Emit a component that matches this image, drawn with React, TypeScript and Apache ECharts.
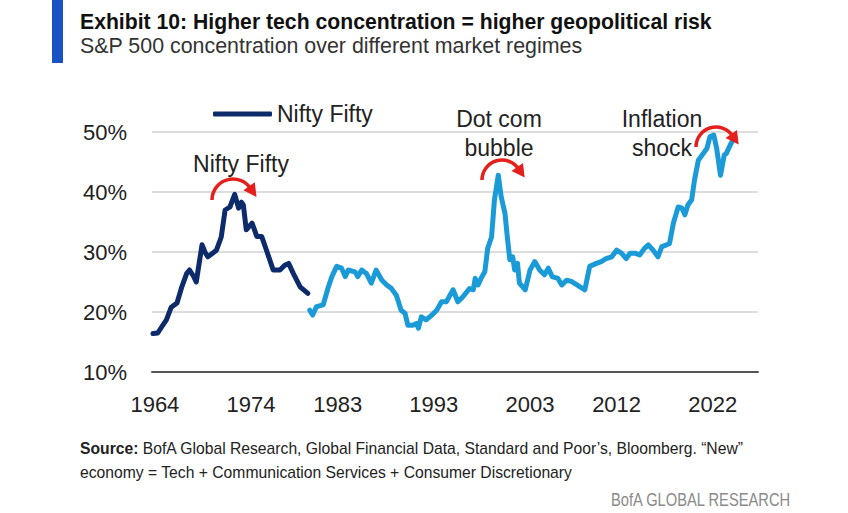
import React, { useEffect, useRef } from "react";
import * as echarts from "echarts";

// ---- Data ----
const niftyYears = [
  1963.8, 1964.3, 1964.7, 1965.2, 1965.7, 1966.3, 1966.8, 1967.3, 1967.6, 1968.0,
  1968.3, 1968.9, 1969.2, 1969.5, 1970.0, 1970.4, 1970.9, 1971.3, 1971.8, 1972.3,
  1972.7, 1973.0, 1973.2, 1973.5, 1974.1, 1974.6, 1975.1, 1975.6, 1976.3, 1977.0,
  1977.5, 1977.9, 1978.4, 1979.1, 1979.9,
];
const niftyValues = [
  16.4, 16.5, 17.5, 18.7, 20.8, 21.5, 24.2, 26.4, 27.0, 26.0,
  25.0, 31.2, 30.0, 29.2, 29.8, 30.3, 32.5, 37.0, 37.5, 39.6,
  37.3, 38.3, 37.8, 33.7, 34.8, 32.6, 32.6, 30.3, 27.0, 27.0,
  27.8, 28.1, 26.4, 24.2, 23.1,
];

const sp500Years = [
  1980.1, 1980.4, 1980.8, 1981.5, 1982.0, 1982.4, 1982.9, 1983.4, 1983.8, 1984.1,
  1984.8, 1985.1, 1985.5, 1986.0, 1986.5, 1987.0, 1987.6, 1988.1, 1988.6, 1989.1,
  1989.6, 1990.0, 1990.3, 1990.8, 1991.2, 1991.4, 1991.7, 1992.2, 1992.8, 1993.3,
  1993.8, 1994.3, 1995.0, 1995.5, 1996.0, 1996.7, 1997.1, 1997.3, 1997.6, 1997.9,
  1998.3, 1998.6, 1999.0, 1999.3, 1999.7, 2000.0, 2000.4, 2000.6, 2000.9, 2001.2,
  2001.4, 2001.7, 2001.9, 2002.5, 2003.0, 2003.5, 2004.0, 2004.5, 2004.9, 2005.3,
  2005.9, 2006.3, 2006.8, 2007.3, 2007.8, 2008.2, 2008.7, 2009.2, 2009.9, 2010.4,
  2010.9, 2011.5, 2012.0, 2012.5, 2013.0, 2013.4, 2013.9, 2014.4, 2014.9, 2015.3,
  2015.8, 2016.3, 2016.7, 2017.2, 2017.5, 2017.9, 2018.1, 2018.4, 2018.8, 2019.1,
  2019.4, 2019.8, 2020.1, 2020.5, 2021.0, 2021.4, 2021.7, 2022.1, 2022.4, 2022.8,
  2023.2, 2023.4, 2023.8, 2024.1,
];
const sp500Values = [
  20.3, 19.5, 20.9, 21.2, 24.0, 25.9, 27.6, 27.3, 25.9, 27.0,
  26.7, 25.9, 27.0, 26.4, 24.8, 27.0, 25.3, 24.5, 23.9, 22.8,
  20.3, 19.8, 17.8, 17.8, 18.1, 17.3, 19.2, 18.7, 19.5, 20.3,
  21.7, 21.7, 23.7, 21.7, 22.5, 23.9, 23.7, 25.6, 24.5, 25.6,
  26.7, 30.6, 32.5, 38.7, 42.8, 39.2, 36.4, 33.1, 28.7, 29.2,
  27.0, 28.1, 24.8, 23.7, 27.0, 28.4, 27.0, 26.2, 27.3, 25.9,
  25.6, 24.5, 25.3, 25.1, 24.6, 24.2, 23.7, 27.6, 28.1, 28.4,
  28.9, 29.2, 30.3, 29.8, 28.9, 29.8, 29.8, 29.5, 30.6, 31.2,
  30.3, 29.2, 30.9, 31.2, 31.4, 34.8, 35.9, 37.5, 37.3, 36.2,
  37.8, 38.7, 42.0, 45.3, 46.4, 47.3, 49.2, 49.5, 47.3, 42.8,
  46.2, 46.4, 47.8, 48.7,
];

const xTickLabels = [1964, 1974, 1983, 1993, 2003, 2012, 2022];

const titleText = "Exhibit 10: Higher tech concentration = higher geopolitical risk";
const subtitleText = "S&P 500 concentration over different market regimes";
const sourceLine1 = " BofA Global Research, Global Financial Data, Standard and Poor\u2019s, Bloomberg. \u201cNew\u201d";
const sourceLine2 = "economy = Tech + Communication Services + Consumer Discretionary";

const FONT = "'Liberation Sans', Arial, sans-serif";
const RED = "#e3201b";

function arrow(cx: number, cy: number, r: number) {
  const th = -35 * Math.PI / 180;
  const ex = cx + r * Math.cos(th);
  const ey = cy + r * Math.sin(th);
  const tx = -Math.sin(th), ty = Math.cos(th);
  const nx = Math.cos(th), ny = Math.sin(th);
  const bx = ex - 2 * tx, by = ey - 2 * ty;
  return [
    {
      type: "arc",
      shape: { cx, cy, r, startAngle: Math.PI, endAngle: 2 * Math.PI + th + 0.05, clockwise: true },
      style: { stroke: RED, lineWidth: 3.5, fill: "none" },
      z: 50,
    },
    {
      type: "polygon",
      shape: {
        points: [
          [bx + 7 * nx, by + 7 * ny],
          [bx - 7 * nx, by - 7 * ny],
          [ex + 11 * tx, ey + 11 * ty],
        ],
      },
      style: { fill: RED },
      z: 50,
    },
  ];
}

export default function App() {
  const ref = useRef<HTMLDivElement>(null);
  useEffect(() => {
    document.body.style.margin = "0";
    const chart = echarts.init(ref.current!, null, { renderer: "svg" });
    const annText = (text: string, x: number, y: number) => ({
      type: "text",
      x,
      y,
      style: { text, fill: "#222", font: `23px ${FONT}`, align: "center", verticalAlign: "middle" },
      z: 50,
    });
    chart.setOption({
      animation: false,
      backgroundColor: "#ffffff",
      grid: { left: 152, right: 90, top: 132, bottom: 141 },
      legend: {
        data: ["Nifty Fifty"],
        left: 208,
        top: 97,
        icon: "roundRect",
        itemWidth: 59,
        itemHeight: 5,
        textStyle: { fontFamily: FONT, fontSize: 23, color: "#222", lineHeight: 24 },
      },
      xAxis: {
        type: "value",
        min: 1963.7,
        max: 2026.7,
        axisLine: { show: true, lineStyle: { color: "#555", width: 2 } },
        axisTick: { show: false },
        splitLine: { show: false },
        axisLabel: {
          customValues: xTickLabels,
          formatter: (v: number) => String(Math.round(v)),
          fontFamily: FONT,
          fontSize: 22,
          color: "#222",
          margin: 21,
        },
      },
      yAxis: {
        type: "value",
        min: 10,
        max: 50,
        interval: 10,
        axisLine: { show: false },
        axisTick: { show: false },
        splitLine: { lineStyle: { color: "#d2d2d2", width: 1.5 } },
        axisLabel: {
          formatter: "{value}%",
          fontFamily: FONT,
          fontSize: 22,
          color: "#222",
          margin: 25,
        },
      },
      series: [
        {
          name: "Nifty Fifty",
          type: "line",
          data: niftyYears.map((y, i) => [y, niftyValues[i]]),
          showSymbol: false,
          symbol: "none",
          lineStyle: { color: "#0d2a6b", width: 5, join: "round", cap: "round" },
          itemStyle: { color: "#0d2a6b" },
          z: 3,
        },
        {
          name: "S&P 500 concentration",
          type: "line",
          data: sp500Years.map((y, i) => [y, sp500Values[i]]),
          showSymbol: false,
          symbol: "none",
          lineStyle: { color: "#1b9ad8", width: 5, join: "round", cap: "round" },
          itemStyle: { color: "#1b9ad8" },
          z: 3,
        },
      ],
      graphic: [
        { type: "rect", shape: { x: 52, y: 0, width: 11, height: 63 }, style: { fill: "#1852c4" } },
        {
          type: "text",
          x: 80,
          y: 21.5,
          style: { text: titleText, fill: "#111", font: `bold 21.2px ${FONT}`, verticalAlign: "middle" },
        },
        {
          type: "text",
          x: 80,
          y: 46,
          style: { text: subtitleText, fill: "#333", font: `21.4px ${FONT}`, verticalAlign: "middle" },
        },
        annText("Nifty Fifty", 241, 164),
        annText("Dot com", 499, 119),
        annText("bubble", 499, 148),
        annText("Inflation", 662, 119),
        annText("shock", 662, 148),
        ...arrow(233, 200, 21),
        ...arrow(502, 180, 20),
        ...arrow(716, 147, 20),
        {
          type: "text",
          x: 80,
          y: 448,
          style: {
            text: "{b|Source:}" + sourceLine1,
            fill: "#222",
            font: `15.7px ${FONT}`,
            verticalAlign: "middle",
            rich: { b: { fontWeight: "bold", fontSize: 15.7, fontFamily: FONT, fill: "#222" } },
          },
        },
        {
          type: "text",
          x: 80,
          y: 472,
          style: { text: sourceLine2, fill: "#222", font: `15.7px ${FONT}`, verticalAlign: "middle" },
        },
        {
          type: "text",
          x: 611,
          y: 500,
          scaleX: 0.84,
          style: {
            text: "BofA GLOBAL RESEARCH",
            fill: "#8a8a8a",
            font: `17.5px ${FONT}`,
            align: "left",
            verticalAlign: "middle",
          },
        },
      ],
    });
    return () => chart.dispose();
  }, []);
  return <div ref={ref} style={{ width: 848, height: 513, position: "absolute", left: 0, top: 0 }} />;
}
